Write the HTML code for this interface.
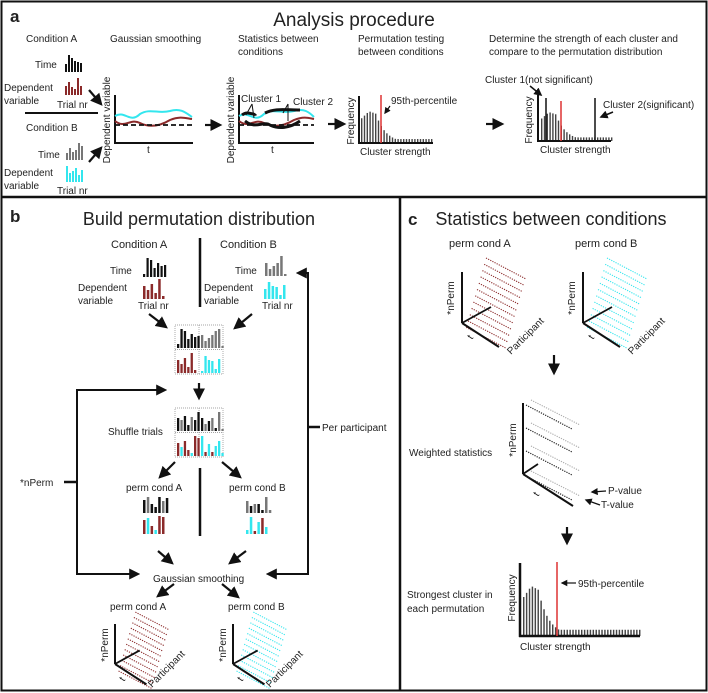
<!DOCTYPE html>
<html><head><meta charset="utf-8"><style>
html,body{margin:0;padding:0;background:#fff}
svg{display:block}
text{font-family:"Liberation Sans",sans-serif;fill:#222}
</style></head><body>
<svg id="s" width="708" height="693" viewBox="0 0 708 693" xmlns="http://www.w3.org/2000/svg">
<defs>
<marker id="ah" viewBox="0 0 10 10" refX="8" refY="5" markerWidth="5.5" markerHeight="5.5" orient="auto"><path d="M0,0 L10,5 L0,10 z" fill="#111"/></marker>
</defs>
<rect x="1.5" y="1.5" width="705" height="689" fill="none" stroke="#111" stroke-width="2"/>
<line x1="1" y1="197" x2="707" y2="197" stroke="#111" stroke-width="2.5"/>
<line x1="400" y1="197" x2="400" y2="691" stroke="#111" stroke-width="2.5"/>
<g id="g"></g>
</svg>
<script>
var g=document.getElementById('g'),NS='http://www.w3.org/2000/svg';
function el(t,a,txt){var e=document.createElementNS(NS,t);for(var k in a)e.setAttribute(k,a[k]);if(txt!=null)e.textContent=txt;g.appendChild(e);return e;}
function T(x,y,s,size,extra){var a={x:x,y:y,'font-size':size||10};for(var k in extra)a[k]=extra[k];return el('text',a,s);}
function L(x1,y1,x2,y2,w,c,extra){var a={x1:x1,y1:y1,x2:x2,y2:y2,stroke:c||'#111','stroke-width':w||2};for(var k in extra)a[k]=extra[k];return el('line',a);}
function A(x1,y1,x2,y2,w){return L(x1,y1,x2,y2,w||2.2,'#111',{'marker-end':'url(#ah)'});}
function bars(x,yb,hs,cols,bw,gap){for(var i=0;i<hs.length;i++){el('rect',{x:x+i*(bw+gap),y:yb-hs[i],width:bw,height:hs[i],fill:cols[i%cols.length]});}}
var K='#111',G='#777',R='#8b2a2a',C='#33e6ee';
function hist(x0,yb,n,top,bw){var h=[];for(var i=0;i<n;i++){var v;if(i<3)v=top*(0.75+0.08*i);else if(i<6)v=top*(0.95-0.03*(i-3));else v=Math.max(top*0.12,top*(0.9*Math.exp(-(i-5)*0.28)));h.push(v);}
for(var i=0;i<n;i++){el('rect',{x:x0+3+i*bw,y:yb-h[i],width:bw*0.5,height:h[i],fill:'#444'});}}
// ---------- Panel a
T(10,22,'a',17,{'font-family':'Liberation Serif','font-weight':'bold'});
T(354,26,'Analysis procedure',19,{'text-anchor':'middle'});
T(26,42,'Condition A',10);T(110,42,'Gaussian smoothing',10);
T(238,42,'Statistics between',10);T(238,55,'conditions',10);
T(358,42,'Permutation testing',10);T(358,55,'between conditions',10);
T(489,42,'Determine the strength of each cluster and',10);T(489,55,'compare to the permutation distribution',10);
T(35,68,'Time',10);bars(65,72,[8,17,14,11,10,9],[K],2,1);
T(4,91,'Dependent',10);T(4,104,'variable',10);bars(65,95,[9,13,8,6,17,9],[R],2,1);
T(57,108,'Trial nr',10);
L(25,113,98,113,2);
T(26,131,'Condition B',10);
T(38,158,'Time',10);bars(66,160,[7,12,8,10,17,14],[G],2,1);
T(4,176,'Dependent',10);T(4,189,'variable',10);bars(66,182,[16,9,11,14,7,12],[C],2,1);
T(57,194,'Trial nr',10);
A(89,90,101,104);A(89,162,101,148);
// plot1
L(115,95,115,143,2);L(114,143,193,143,2);
T(110,120,'Dependent variable',10,{transform:'rotate(-90 110 120)','text-anchor':'middle'});
T(147,153,'t',10);
el('path',{d:'M115,116 C125,110 130,124 140,114 C150,108 158,114 170,111 C180,108 185,112 192,117',stroke:C,'stroke-width':2,fill:'none'});
el('path',{d:'M115,121 C125,129 130,118 140,123 C150,128 160,126 170,120 C180,116 185,118 192,119',stroke:R,'stroke-width':2,fill:'none'});
L(115,125,193,125,1.8,'#111',{'stroke-dasharray':'5,3'});
A(205,125,220,125);
// plot2
L(239,95,239,143,2);L(238,143,314,143,2);
T(234,120,'Dependent variable',10,{transform:'rotate(-90 234 120)','text-anchor':'middle'});
T(271,153,'t',10);
el('path',{d:'M239,116 C249,110 254,124 264,114 C274,108 282,114 294,111 C304,108 309,112 314,117',stroke:C,'stroke-width':2,fill:'none'});
el('path',{d:'M239,121 C249,129 254,118 264,123 C274,128 284,126 294,120 C304,116 309,118 314,119',stroke:R,'stroke-width':2,fill:'none'});
el('path',{d:'M242,115 C248,110 254,116 256,114',stroke:K,'stroke-width':3,fill:'none'});
el('path',{d:'M265,113 C275,108 285,110 300,110',stroke:K,'stroke-width':3,fill:'none'});
el('path',{d:'M245,121 C255,129 262,122 268,124 C278,130 290,128 300,121',stroke:K,'stroke-width':3,fill:'none'});
L(239,125,314,125,1.8,'#111',{'stroke-dasharray':'5,3'});
T(241,102,'Cluster 1',10);T(293,105,'Cluster 2',10);
L(252,104,246,115,1);L(252,104,254,118,1);L(288,104,283,113,1);L(288,104,288,121,1);
A(328,124,344,124);
// hist1
hist(358,143,26,33,2.8);
L(359,96,359,144,2);L(358,143,433,143,2);
L(381,95,381,143,1.5,'#d33');
T(354,121,'Frequency',10,{transform:'rotate(-90 354 121)','text-anchor':'middle'});
T(391,104,'95th-percentile',10);A(390,106,385,113,1.2);
T(360,155,'Cluster strength',10);
A(486,124,502,124);
// hist2
hist(538,141,26,30,2.8);
L(538,95,538,142,2);L(537,141,611,141,2);
L(546,98,546,141,1.5);L(595,98,595,141,1.5);
L(561,101,561,141,1.5,'#d33');
T(532,120,'Frequency',10,{transform:'rotate(-90 532 120)','text-anchor':'middle'});
T(485,83,'Cluster 1(not significant)',10);A(530,86,541,95,1.5);
T(603,108,'Cluster 2(significant)',10);A(613,112,601,117,1.5);
T(540,153,'Cluster strength',10);
// ---------- Panel b
T(10,222,'b',17,{'font-family':'Liberation Serif','font-weight':'bold'});
T(199,225,'Build permutation distribution',18,{'text-anchor':'middle'});
T(111,248,'Condition A',11);T(220,248,'Condition B',11);
L(200,238,200,307,2.5);
T(110,274,'Time',10);bars(143,277,[3,19,17,9,14,11,12],[K],2.2,1.3);
T(78,291,'Dependent',10);T(78,304,'variable',10);bars(143,299,[13,9,15,6,20,3],[R],2.5,1.3);
T(138,309,'Trial nr',10);
T(235,274,'Time',10);bars(265,276,[13,7,10,13,20,2],[G],2.5,1.3);
T(204,291,'Dependent',10);T(204,304,'variable',10);bars(264,299,[10,17,13,12,4,14],[C],2.5,1.3);
T(262,309,'Trial nr',10);
A(149,314,166,327);A(252,314,235,328);
function box(x,y,top1,top2,bot1,bot2){
 el('rect',{x:x,y:y,width:48,height:49,fill:'none',stroke:'#888','stroke-width':0.7,'stroke-dasharray':'1,1'});
 L(x,y+24.5,x+48,y+24.5,0.7,'#888',{'stroke-dasharray':'1,1'});L(x+24,y,x+24,y+49,0.7,'#888',{'stroke-dasharray':'1,1'});
 bars(x+2,y+23,top1[0],top1[1],2.3,1.1);bars(x+26,y+23,top2[0],top2[1],2.3,1.1);
 bars(x+2,y+48,bot1[0],bot1[1],2.3,1.1);bars(x+26,y+48,bot2[0],bot2[1],2.3,1.1);}
box(175,325,[[4,19,17,9,14,11,12],[K]],[[13,7,10,13,17,19,2],[G]],[[13,9,15,6,20,3,0],[R]],[[2,17,13,12,4,14,0],[C]]);
A(199,383,199,398);
box(175,408,[[13,11,15,6,14,11,19],[K,G,K,K,G,K,K]],[[13,7,10,13,3,19,2],[K,G,K,G,K,G,G]],[[13,9,15,6,3,20,18],[R,C,R,R,C,R,R]],[[20,4,12,4,10,15,3],[C,R,C,R,C,C,C]]);
T(108,435,'Shuffle trials',10);
// loops
L(77,389,77,575,2);L(76,390,165,390,2,'#111',{'marker-end':'url(#ah)'});
L(76,574,138,574,2,'#111',{'marker-end':'url(#ah)'});
L(64,482,77,482,2.5);T(20,486,'*nPerm',10);
L(308,272,308,575,2);L(309,273,298,273,2,'#111',{'marker-end':'url(#ah)'});
L(309,574,268,574,2,'#111',{'marker-end':'url(#ah)'});
L(308,427,320,427,2.5);T(322,431,'Per participant',10);
A(175,462,160,477);A(222,462,240,477);
T(126,491,'perm cond A',10);T(229,491,'perm cond B',10);
L(200,468,200,536,2.5);
bars(143,513,[13,16,9,6,16,12,15],[K,G,K,K,K,G,K],2.5,1.3);
bars(143,534,[14,16,8,4,18,17],[R,C,R,C,R,R],2.5,1.3);
bars(246,513,[12,7,9,9,3,16,3],[G,K,G,K,K,G,G],2.5,1.3);
bars(246,534,[4,17,3,12,16,7],[C,C,R,C,R,C],2.5,1.3);
A(158,551,172,563);A(246,551,230,563);
T(153,582,'Gaussian smoothing',10);
A(174,584,158,596);A(222,584,238,597);
T(110,610,'perm cond A',10);T(228,610,'perm cond B',10);
function cube(ox,oy,col,h,sc){
 var n=12;
 for(var r=0;r<n;r++){var sx=ox+24*sc-r*1.8*sc, sy=oy-h-14*sc+r*6.3*sc;
  L(sx,sy,sx+40*sc,sy+21*sc,1.1,col,{'stroke-dasharray':'1.2,1.2'});}
 L(ox,oy,ox,oy-h,2);L(ox,oy,ox+37*sc,oy+24*sc,2);L(ox,oy,ox+29*sc,oy-16*sc,1.8);}
cube(115,664,R,40,0.85);
T(108,645,'*nPerm',10,{transform:'rotate(-90 108 645)','text-anchor':'middle'});
T(124,682,'t',10,{transform:'rotate(-55 124 682)'});
T(152,688,'Participant',10,{transform:'rotate(-45 152 688)'});
cube(233,664,C,40,0.85);
T(226,645,'*nPerm',10,{transform:'rotate(-90 226 645)','text-anchor':'middle'});
T(242,682,'t',10,{transform:'rotate(-55 242 682)'});
T(270,688,'Participant',10,{transform:'rotate(-45 270 688)'});
// ---------- Panel c
T(408,225,'c',17,{'font-family':'Liberation Serif','font-weight':'bold'});
T(551,225,'Statistics between conditions',18,{'text-anchor':'middle'});
T(449,247,'perm cond A',11);T(575,247,'perm cond B',11);
cube(462,323,R,51,1);
T(454,298,'*nPerm',10,{transform:'rotate(-90 454 298)','text-anchor':'middle'});
T(472,340,'t',10,{transform:'rotate(-55 472 340)'});
T(511,355,'Participant',10,{transform:'rotate(-45 511 355)'});
cube(583,323,C,51,1);
T(575,298,'*nPerm',10,{transform:'rotate(-90 575 298)','text-anchor':'middle'});
T(593,340,'t',10,{transform:'rotate(-55 593 340)'});
T(632,355,'Participant',10,{transform:'rotate(-45 632 355)'});
A(554,355,554,373);
// weighted
L(523,403,523,474,2);L(523,474,573,506,2);L(523,474,538,464,1.8);
[403,426,449,474].forEach(function(y){
 L(531,y-3,580,y+22,1.1,'#aaa',{'stroke-dasharray':'1.2,1.2'});L(526,y+2,572,y+26,1.2,'#222',{'stroke-dasharray':'1.2,1.2'});});
T(409,456,'Weighted statistics',10);
T(516,440,'*nPerm',10,{transform:'rotate(-90 516 440)','text-anchor':'middle'});
T(538,497,'t',10,{transform:'rotate(-55 538 497)'});
T(608,494,'P-value',10);A(606,491,592,492,1.3);
T(601,508,'T-value',10);A(600,505,586,500,1.3);
A(567,527,567,543);
// hist c
hist(520,636,41,52,2.9);
L(520,563,520,637,2.5);L(519,636,640,636,2.5);
L(557,562,557,636,1.5,'#d33');
T(578,587,'95th-percentile',10);A(576,583,562,583,1.2);
T(407,598,'Strongest cluster in',10);T(407,612,'each permutation',10);
T(515,598,'Frequency',10,{transform:'rotate(-90 515 598)','text-anchor':'middle'});
T(520,650,'Cluster strength',10);
</script>
</body></html>
